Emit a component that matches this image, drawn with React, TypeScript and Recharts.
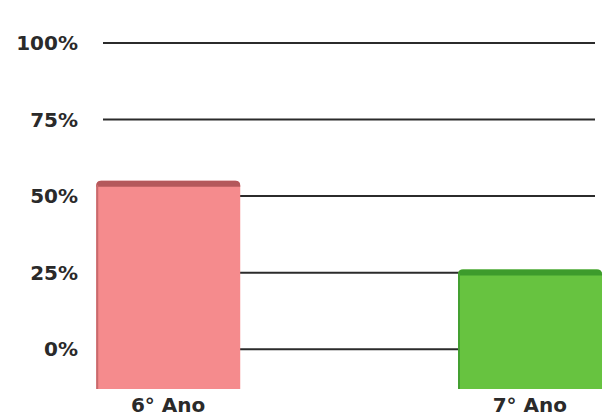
import React from 'react';
import { BarChart, Bar, XAxis, YAxis, CartesianGrid, Cell } from 'recharts';

const categories = ['6° Ano', '7° Ano'];
const percentValues = [55, 26];
const yTicks = [0, 25, 50, 75, 100];
// bars in the picture start a bit below the 0% line
const barFloor = -13;
const yMax = 100;

const barColors = [
    { fill: '#F58B8D', top: '#B4585B', side: '#C86A6C' },
    { fill: '#67C340', top: '#3D9B2C', side: '#44A031' },
];

const data = categories.map((name, i) => ({
    name,
    pos: i,
    range: [barFloor, percentValues[i]],
}));

const BevelBar = (props: any) => {
    const { x, y, width, height, index } = props;
    const c = barColors[index] || barColors[0];
    const r = 5;
    return (
        <g>
            <path
                d={`M${x},${y + height} L${x},${y + r} Q${x},${y} ${x + r},${y} L${x + width - r},${y} Q${x + width},${y} ${x + width},${y + r} L${x + width},${y + height} Z`}
                fill={c.fill}
            />
            <path
                d={`M${x},${y + 6} L${x},${y + r} Q${x},${y} ${x + r},${y} L${x + width - r},${y} Q${x + width},${y} ${x + width},${y + r} L${x + width},${y + 6} Z`}
                fill={c.top}
            />
            <rect x={x} y={y + 4} width={2} height={height - 4} fill={c.side} />
        </g>
    );
};

const tickStyle = { fill: '#2a2a2a', fontSize: 20, fontWeight: 700 };

// only the tick values get a grid line (no line at the bottom edge of the plot)
const gridGenerator = ({ yAxis }: any) => {
    const [r0, r1] = yAxis.range;
    return yTicks.map((t) => r0 + ((t - barFloor) / (yMax - barFloor)) * (r1 - r0));
};

const App: React.FC = () => {
    return (
        <div style={{ position: 'absolute', left: 0, top: 0, width: 604, height: 419, background: '#ffffff' }}>
            <BarChart
                width={604}
                height={419}
                data={data}
                margin={{ top: 43, right: 9, left: 0, bottom: 0 }}
                style={{ fontFamily: '"DejaVu Sans", Verdana, sans-serif' }}
            >
                <CartesianGrid
                    vertical={false}
                    stroke="#2b2b2b"
                    strokeWidth={2}
                    horizontalCoordinatesGenerator={gridGenerator}
                />
                <XAxis
                    type="number"
                    dataKey="pos"
                    domain={[-0.18, 1.18]}
                    ticks={[0, 1]}
                    tickFormatter={(v: number) => categories[v]}
                    axisLine={false}
                    tickLine={false}
                    tickSize={0}
                    tickMargin={9}
                    height={30}
                    tick={tickStyle}
                />
                <YAxis
                    domain={[barFloor, yMax]}
                    ticks={yTicks}
                    tickFormatter={(v: number) => `${v}%`}
                    axisLine={false}
                    tickLine={false}
                    tickSize={0}
                    tickMargin={25}
                    width={103}
                    tick={tickStyle}
                />
                <Bar dataKey="range" barSize={144} shape={<BevelBar />} isAnimationActive={false}>
                    {data.map((d, i) => (
                        <Cell key={d.name} fill={barColors[i].fill} />
                    ))}
                </Bar>
            </BarChart>
        </div>
    );
};

export default App;
